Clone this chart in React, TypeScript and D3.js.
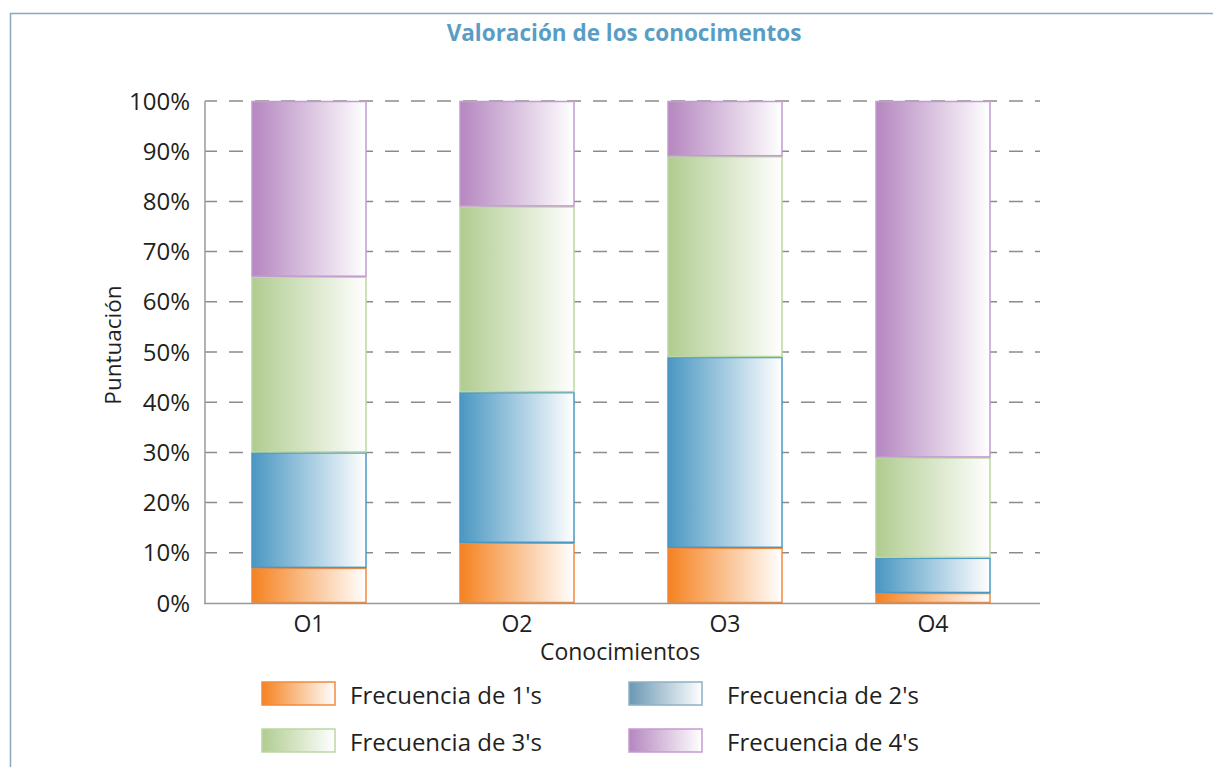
import React from "react";
import * as d3 from "d3";

const categories = ["O1", "O2", "O3", "O4"];
const seriesNames = ["Frecuencia de 1's", "Frecuencia de 2's", "Frecuencia de 3's", "Frecuencia de 4's"];
const freq1 = [7, 12, 11, 2];
const freq2 = [23, 30, 38, 7];
const freq3 = [35, 37, 40, 20];
const freq4 = [35, 21, 11, 71];
const yTicks = [0, 10, 20, 30, 40, 50, 60, 70, 80, 90, 100];

const fills = ["#f58220", "#4a97c2", "#b0cc90", "#b587c0"];
const strokes = ["#f28a3c", "#4b98c4", "#bcd6a4", "#c39bd0"];
const legendFills = ["#f58220", "#6b98b3", "#b0cc90", "#b587c0"];
const legendStrokes = ["#f28a3c", "#8fb0c4", "#bcd6a4", "#c39bd0"];

const W = 1213, H = 767;
const font = "'Open Sans', 'Noto Sans', sans-serif";

export default function App() {
  const x = d3.scaleBand<string>().domain(categories).range([205, 1037]).paddingInner(0.447).paddingOuter(0.2235);
  const y = d3.scaleLinear().domain([0, 100]).range([603, 101]);
  const rows = categories.map((c, i) => ({ cat: c, s0: freq1[i], s1: freq2[i], s2: freq3[i], s3: freq4[i] }));
  const stack = d3.stack<any>().keys(["s0", "s1", "s2", "s3"])(rows);

  const legendPos = [
    { x: 262, y: 682, tx: 350 },
    { x: 629, y: 682, tx: 727 },
    { x: 262, y: 729, tx: 350 },
    { x: 629, y: 729, tx: 727 },
  ];

  return (
    <div style={{ position: "absolute", left: 0, top: 0, width: W, height: H, background: "#fff" }}>
      <svg width={W} height={H} style={{ display: "block" }}>
        <defs>
          {fills.map((f, i) => (
            <linearGradient key={i} id={`g${i}`} x1="0" x2="1" y1="0" y2="0">
              <stop offset="0" stopColor={f} />
              <stop offset="1" stopColor="#ffffff" />
            </linearGradient>
          ))}
          {legendFills.map((f, i) => (
            <linearGradient key={i} id={`lg${i}`} x1="0" x2="1" y1="0" y2="0">
              <stop offset="0" stopColor={f} />
              <stop offset="1" stopColor="#ffffff" />
            </linearGradient>
          ))}
        </defs>
        <path d={`M10.5,${H} V13.5 H${W}`} fill="none" stroke="#8aa9bd" strokeWidth={1.5} />
        <text x={624} y={41} textAnchor="middle" fontFamily={font} fontWeight="bold" fontSize={22.5} fill="#5a9dc4">
          Valoración de los conocimentos
        </text>
        {yTicks.slice(1).map((t) => (
          <line key={t} x1={205} x2={1040} y1={y(t)} y2={y(t)} stroke="#8c8c8c" strokeWidth={1.5} strokeDasharray="14 12" strokeDashoffset={2} />
        ))}
        {yTicks.map((t) => (
          <text key={t} x={190} y={y(t) + 8.5} textAnchor="end" fontFamily={font} fontSize={24} fill="#231f20">
            {t}%
          </text>
        ))}
        {stack.map((layer, si) =>
          layer.map((d, ci) => (
            <rect
              key={`${si}-${ci}`}
              x={x(categories[ci])! + 0.5}
              y={y(d[1]) + 0.5}
              width={x.bandwidth() - 1}
              height={Math.max(0, y(d[0]) - y(d[1]) - 1)}
              fill={`url(#g${si})`}
              stroke={strokes[si]}
              strokeWidth={1.5}
            />
          ))
        )}
        <line x1={205} x2={205} y1={101} y2={604} stroke="#999" strokeWidth={1.5} />
        <line x1={204} x2={1040} y1={603.5} y2={603.5} stroke="#999" strokeWidth={1.5} />
        {categories.map((c) => (
          <text key={c} x={x(c)! + x.bandwidth() / 2} y={632} textAnchor="middle" fontFamily={font} fontSize={23} fill="#231f20">
            {c}
          </text>
        ))}
        <text x={620} y={660} textAnchor="middle" fontFamily={font} fontSize={23} fill="#231f20">
          Conocimientos
        </text>
        <text transform={`translate(121,345) rotate(-90)`} textAnchor="middle" fontFamily={font} fontSize={22.5} fill="#231f20">
          Puntuación
        </text>
        {seriesNames.map((n, i) => (
          <g key={n}>
            <rect x={legendPos[i].x} y={legendPos[i].y} width={73} height={23} fill={`url(#lg${i})`} stroke={legendStrokes[i]} strokeWidth={1.5} />
            <text x={legendPos[i].tx} y={legendPos[i].y + 21.5} fontFamily={font} fontSize={24} fill="#231f20">
              {n}
            </text>
          </g>
        ))}
      </svg>
    </div>
  );
}
